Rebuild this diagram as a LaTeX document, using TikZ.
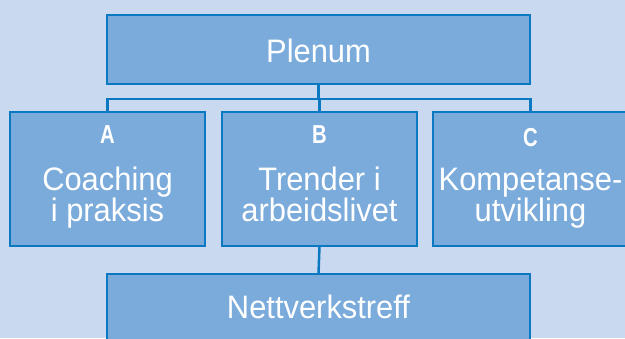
\documentclass[tikz,border=0pt]{standalone}
\usepackage{fontspec}
\setmainfont{Liberation Sans}
\newfontfamily\condreg{Liberation Sans}[FakeStretch=0.95]
\newfontfamily\condbold{Liberation Sans Bold}[FakeStretch=0.78]
\definecolor{bgblue}{HTML}{C9DAF0}
\definecolor{boxfill}{HTML}{7BABDB}
\definecolor{boxline}{HTML}{0B78C2}
\begin{document}
\begin{tikzpicture}[x=1pt,y=-1pt,
  box/.style={draw=boxline, fill=boxfill, line width=2.5pt, minimum width=#1, inner sep=0pt, outer sep=0pt},
  link/.style={draw=boxline, line width=2.5pt},
  txt/.style={text=white, anchor=base, inner sep=0pt, font=\condreg\fontsize{32.5}{32.5}\selectfont},
  letter/.style={text=white, anchor=base, inner sep=0pt, font=\condbold\fontsize{26}{26}\selectfont}]
\useasboundingbox (0,0) rectangle (625,338);
\clip (0,0) rectangle (625,338);
\fill[bgblue] (0,0) rectangle (625,338);
% boxes
\node[box=423pt, minimum height=69pt] (plenum) at (318.5,49.5) {};
\node[box=195pt, minimum height=134pt] (A) at (107.5,179) {};
\node[box=195pt, minimum height=134pt] (B) at (319.5,179) {};
\node[box=195pt, minimum height=134pt] (C) at (530.5,179) {};
\node[box=423pt, minimum height=80pt] (net) at (318.5,314) {};
% connectors
\coordinate (bus) at (318.5,99);
\draw[link] (plenum.south) -- (bus);
\draw[link] (A.north) |- (bus) -| (C.north);
\draw[link] (B.north) -- (B.north |- bus);
\draw[link] (B.south) -- (net.north);
% texts
\node[txt] (tplenum) at (318.5,62) {Plenum};
\node[letter] (tA) at (107.5,143) {A};
\node[txt] (tA1) at (107.5,190) {Coaching};
\node[txt] (tA2) at (107.5,221) {i praksis};
\node[letter] (tB) at (319.5,143) {B};
\node[txt] (tB1) at (319.5,190) {Trender i};
\node[txt] (tB2) at (319.5,221) {arbeidslivet};
\node[letter] (tC) at (530.5,146) {C};
\node[txt] (tC1) at (530.5,190) {Kompetanse-};
\node[txt] (tC2) at (530.5,221) {utvikling};
\node[txt] (tnet) at (318.5,318) {Nettverkstreff};
\end{tikzpicture}
\end{document}
